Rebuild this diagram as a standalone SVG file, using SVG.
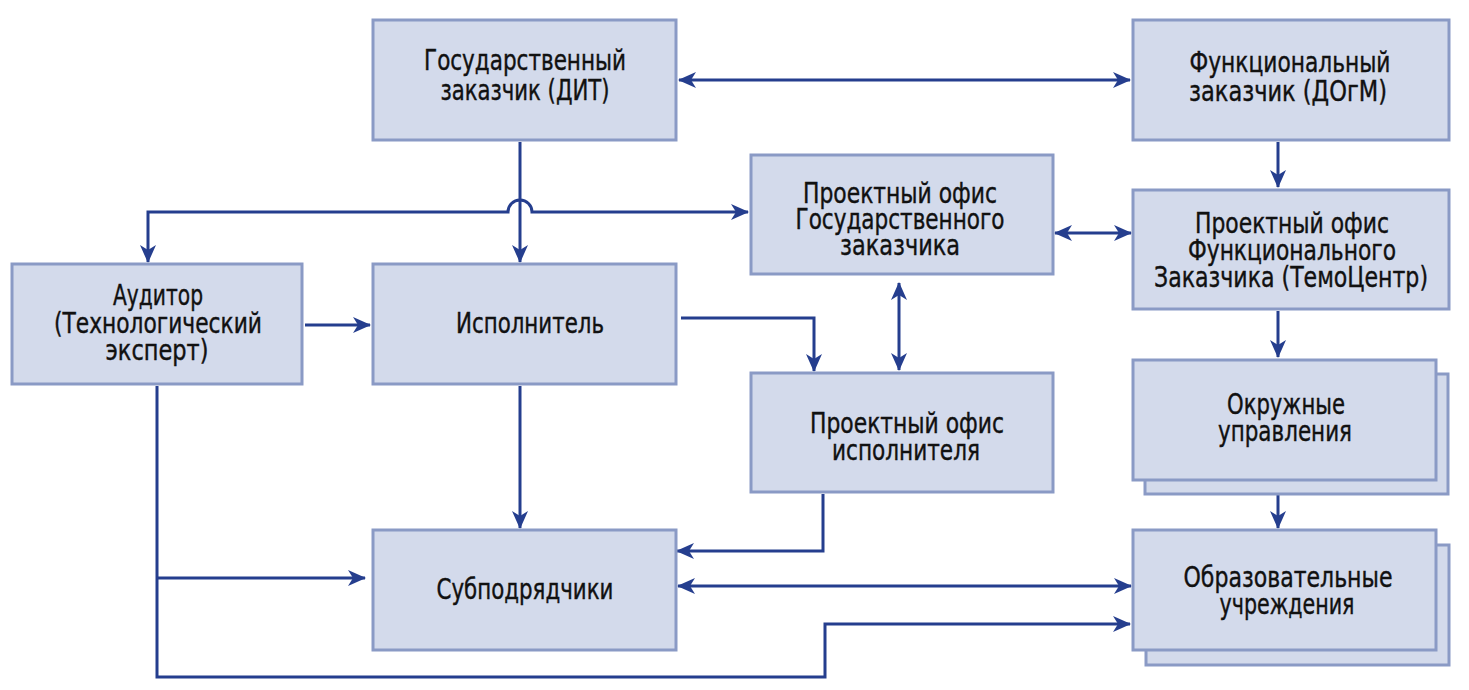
<svg xmlns="http://www.w3.org/2000/svg" width="1469" height="690" viewBox="0 0 1469 690">
<style>
.box{fill:#d3daeb;stroke:#8a9ac5;stroke-width:3}
.lbl{font-family:"Liberation Sans Narrow","DejaVu Sans Condensed","Liberation Sans",sans-serif;font-size:29px;fill:#111;text-anchor:middle;stroke:#111;stroke-width:0.4}
.c{fill:none;stroke:#253e8e;stroke-width:3}
.a{marker-end:url(#ah)}
.b{marker-start:url(#ah);marker-end:url(#ah)}
</style>
<defs>
<marker id="ah" markerUnits="userSpaceOnUse" markerWidth="18" markerHeight="16" viewBox="0 0 18 16" refX="17" refY="8" orient="auto-start-reverse">
<path d="M0,0 L18,8 L0,16 L5,8 z" fill="#253e8e"/>
</marker>
</defs>
<rect width="1469" height="690" fill="#fff"/>
<g id="connectors">
<path class="c b" d="M679,80 H1130"/>
<path class="c a" d="M520,142 V262"/>
<path class="c b" d="M148,262 V212 H508 A12 12 0 0 1 532 212 H748"/>
<path class="c a" d="M1278,142 V187"/>
<path class="c b" d="M1055,233 H1131"/>
<path class="c b" d="M899,283 V370"/>
<path class="c a" d="M305,325 H370"/>
<path class="c a" d="M681,318 H814 V371"/>
<path class="c a" d="M1278,311 V357"/>
<path class="c a" d="M1278,482 V528"/>
<path class="c a" d="M520,386 V528"/>
<path class="c a" d="M823,494 V551 H677"/>
<path class="c a" d="M157,386 V677 H825 V624 H1130"/>
<path class="c a" d="M157,578 H365"/>
<path class="c b" d="M678,586 H1131"/>
</g>
<g id="n-gz">
<rect class="box" x="373" y="20" width="303" height="120"/>
<text class="lbl"><tspan x="525" y="70" textLength="202" lengthAdjust="spacingAndGlyphs">Государственный</tspan><tspan x="525" y="100" textLength="169" lengthAdjust="spacingAndGlyphs">заказчик (ДИТ)</tspan></text>
</g>
<g id="n-fz">
<rect class="box" x="1133" y="20" width="316" height="120"/>
<text class="lbl"><tspan x="1290" y="72" textLength="201" lengthAdjust="spacingAndGlyphs">Функциональный</tspan><tspan x="1288" y="101" textLength="198" lengthAdjust="spacingAndGlyphs">заказчик (ДОгМ)</tspan></text>
</g>
<g id="n-pogz">
<rect class="box" x="751" y="155" width="302" height="119"/>
<text class="lbl"><tspan x="900" y="203" textLength="194" lengthAdjust="spacingAndGlyphs">Проектный офис</tspan><tspan x="900" y="229" textLength="209" lengthAdjust="spacingAndGlyphs">Государственного</tspan><tspan x="900" y="255" textLength="120" lengthAdjust="spacingAndGlyphs">заказчика</tspan></text>
</g>
<g id="n-pofz">
<rect class="box" x="1133" y="190" width="316" height="119"/>
<text class="lbl"><tspan x="1292" y="233" textLength="194" lengthAdjust="spacingAndGlyphs">Проектный офис</tspan><tspan x="1292" y="260" textLength="208" lengthAdjust="spacingAndGlyphs">Функционального</tspan><tspan x="1291" y="287" textLength="274" lengthAdjust="spacingAndGlyphs">Заказчика (ТемоЦентр)</tspan></text>
</g>
<g id="n-aud">
<rect class="box" x="12" y="264" width="290" height="120"/>
<text class="lbl"><tspan x="158" y="305" textLength="90" lengthAdjust="spacingAndGlyphs">Аудитор</tspan><tspan x="158" y="333" textLength="208" lengthAdjust="spacingAndGlyphs">(Технологический</tspan><tspan x="157" y="360" textLength="103" lengthAdjust="spacingAndGlyphs">эксперт)</tspan></text>
</g>
<g id="n-isp">
<rect class="box" x="373" y="264" width="303" height="120"/>
<text class="lbl"><tspan x="530" y="333" textLength="148" lengthAdjust="spacingAndGlyphs">Исполнитель</tspan></text>
</g>
<g id="n-poisp">
<rect class="box" x="751" y="373" width="302" height="119"/>
<text class="lbl"><tspan x="907" y="433" textLength="194" lengthAdjust="spacingAndGlyphs">Проектный офис</tspan><tspan x="906" y="460" textLength="148" lengthAdjust="spacingAndGlyphs">исполнителя</tspan></text>
</g>
<g id="n-okr">
<rect class="box" x="1145" y="374" width="303" height="120"/>
<rect class="box" x="1133" y="360" width="303" height="120"/>
<text class="lbl"><tspan x="1286" y="414" textLength="118" lengthAdjust="spacingAndGlyphs">Окружные</tspan><tspan x="1285" y="441" textLength="134" lengthAdjust="spacingAndGlyphs">управления</tspan></text>
</g>
<g id="n-sub">
<rect class="box" x="373" y="530" width="303" height="120"/>
<text class="lbl"><tspan x="525" y="599" textLength="177" lengthAdjust="spacingAndGlyphs">Субподрядчики</tspan></text>
</g>
<g id="n-obr">
<rect class="box" x="1146" y="545" width="303" height="120"/>
<rect class="box" x="1133" y="530" width="303" height="120"/>
<text class="lbl"><tspan x="1288" y="587" textLength="209" lengthAdjust="spacingAndGlyphs">Образовательные</tspan><tspan x="1287" y="614" textLength="135" lengthAdjust="spacingAndGlyphs">учреждения</tspan></text>
</g>
</svg>
